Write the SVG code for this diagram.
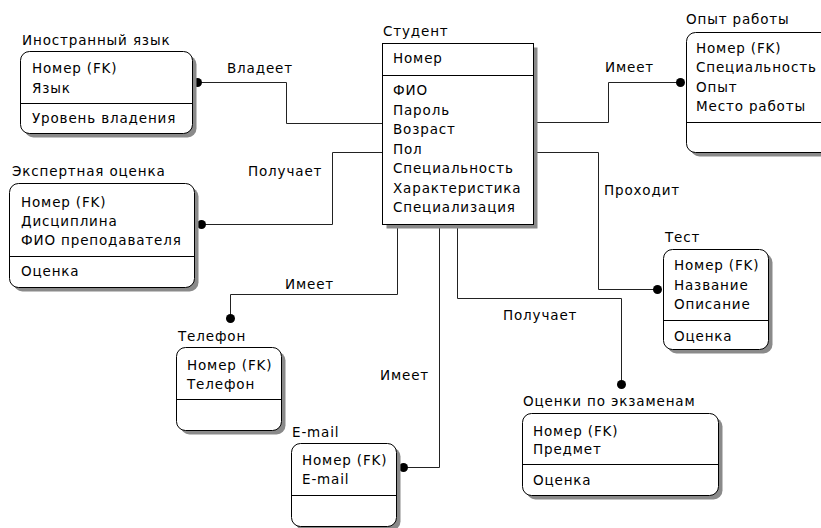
<svg xmlns="http://www.w3.org/2000/svg" width="821" height="528" viewBox="0 0 821 528">
<style>
text{font-family:"DejaVu Sans","Liberation Sans",sans-serif;font-size:13.5px;letter-spacing:0.85px;fill:#000}
.box{fill:#fff;stroke:#000;stroke-width:1}
.sh{fill:#8a8a8a;stroke:none}
.div{stroke:#000;stroke-width:1}
.con{fill:none;stroke:#222;stroke-width:1}
.dot{fill:#000}
</style>
<rect width="821" height="528" fill="#fff"/>
<g id="connectors">
<path class="con" d="M382.5 123.5H286.5V82.5H197"/>
<path class="con" d="M382.5 152.5H332.5V224.5H202"/>
<path class="con" d="M533.5 122.5H608.5V82.5H680"/>
<path class="con" d="M533.5 152.5H598.5V289.5H657"/>
<path class="con" d="M397.5 224.5V294.5H230.5V318"/>
<path class="con" d="M439.5 224.5V467.5H403"/>
<path class="con" d="M457.5 224.5V298.5H621.5V384"/>
<circle class="dot" cx="197.5" cy="82.5" r="4.5"/>
<circle class="dot" cx="201.5" cy="224.5" r="4.5"/>
<circle class="dot" cx="680.5" cy="82.5" r="4.5"/>
<circle class="dot" cx="657.5" cy="289.5" r="4.5"/>
<circle class="dot" cx="230.5" cy="318.5" r="4.5"/>
<circle class="dot" cx="403.5" cy="467.5" r="4.5"/>
<circle class="dot" cx="621.5" cy="384.5" r="4.5"/>
<text x="227" y="73">Владеет</text>
<text x="248" y="176">Получает</text>
<text x="605" y="72">Имеет</text>
<text x="604" y="195">Проходит</text>
<text x="285" y="289">Имеет</text>
<text x="380" y="380">Имеет</text>
<text x="503" y="320">Получает</text>
</g>
<g id="inostranny">
<text x="22" y="45">Иностранный язык</text>
<rect class="sh" x="24.5" y="55.5" width="172" height="82" rx="9"/>
<rect class="box" x="20.5" y="51.5" width="172" height="82" rx="9"/>
<line class="div" x1="20.5" y1="103.5" x2="192.5" y2="103.5"/>
<text x="32" y="73">Номер (FK)</text>
<text x="32" y="93">Язык</text>
<text x="32" y="123">Уровень владения</text>
</g>
<g id="student">
<text x="383" y="35.5">Студент</text>
<rect class="sh" x="386.5" y="47.5" width="151" height="181"/>
<rect class="box" x="382.5" y="43.5" width="151" height="181"/>
<line class="div" x1="382.5" y1="75.5" x2="533.5" y2="75.5"/>
<text x="393" y="63">Номер</text>
<text x="393" y="95">ФИО</text>
<text x="393" y="114.5">Пароль</text>
<text x="393" y="134">Возраст</text>
<text x="393" y="153.5">Пол</text>
<text x="393" y="173">Специальность</text>
<text x="393" y="192.5">Характеристика</text>
<text x="393" y="212">Специализация</text>
</g>
<g id="opyt">
<text x="686" y="24">Опыт работы</text>
<rect class="sh" x="690.5" y="36.5" width="150" height="120" rx="9"/>
<rect class="box" x="686.5" y="32.5" width="150" height="120" rx="9"/>
<line class="div" x1="686.5" y1="122.5" x2="836.5" y2="122.5"/>
<text x="696" y="53">Номер (FK)</text>
<text x="696" y="72">Специальность</text>
<text x="696" y="91.5">Опыт</text>
<text x="696" y="111">Место работы</text>
</g>
<g id="ekspert">
<text x="12" y="176">Экспертная оценка</text>
<rect class="sh" x="13.5" y="187.5" width="185" height="104" rx="9"/>
<rect class="box" x="9.5" y="183.5" width="185" height="104" rx="9"/>
<line class="div" x1="9.5" y1="256.5" x2="194.5" y2="256.5"/>
<text x="21" y="207">Номер (FK)</text>
<text x="21" y="226">Дисциплина</text>
<text x="21" y="244.5">ФИО преподавателя</text>
<text x="21" y="276">Оценка</text>
</g>
<g id="telefon">
<text x="178" y="340.5">Телефон</text>
<rect class="sh" x="180.5" y="351.5" width="105" height="83" rx="9"/>
<rect class="box" x="176.5" y="347.5" width="105" height="83" rx="9"/>
<line class="div" x1="176.5" y1="399.5" x2="281.5" y2="399.5"/>
<text x="187" y="370">Номер (FK)</text>
<text x="187" y="388.5">Телефон</text>
</g>
<g id="email">
<text x="292" y="436.5">E-mail</text>
<rect class="sh" x="295.5" y="447.5" width="105" height="83" rx="9"/>
<rect class="box" x="291.5" y="443.5" width="105" height="83" rx="9"/>
<line class="div" x1="291.5" y1="495.5" x2="396.5" y2="495.5"/>
<text x="302" y="465">Номер (FK)</text>
<text x="302" y="484">E-mail</text>
</g>
<g id="ocenki">
<text x="523" y="406">Оценки по экзаменам</text>
<rect class="sh" x="526.5" y="417.5" width="196" height="82" rx="9"/>
<rect class="box" x="522.5" y="413.5" width="196" height="82" rx="9"/>
<line class="div" x1="522.5" y1="464.5" x2="718.5" y2="464.5"/>
<text x="533" y="435.5">Номер (FK)</text>
<text x="533" y="454">Предмет</text>
<text x="533" y="485">Оценка</text>
</g>
<g id="test">
<text x="665" y="241.5">Тест</text>
<rect class="sh" x="667.5" y="253.5" width="105" height="100" rx="9"/>
<rect class="box" x="663.5" y="249.5" width="105" height="100" rx="9"/>
<line class="div" x1="663.5" y1="320.5" x2="768.5" y2="320.5"/>
<text x="674" y="270">Номер (FK)</text>
<text x="674" y="289.5">Название</text>
<text x="674" y="309">Описание</text>
<text x="674" y="340.5">Оценка</text>
</g>
</svg>
